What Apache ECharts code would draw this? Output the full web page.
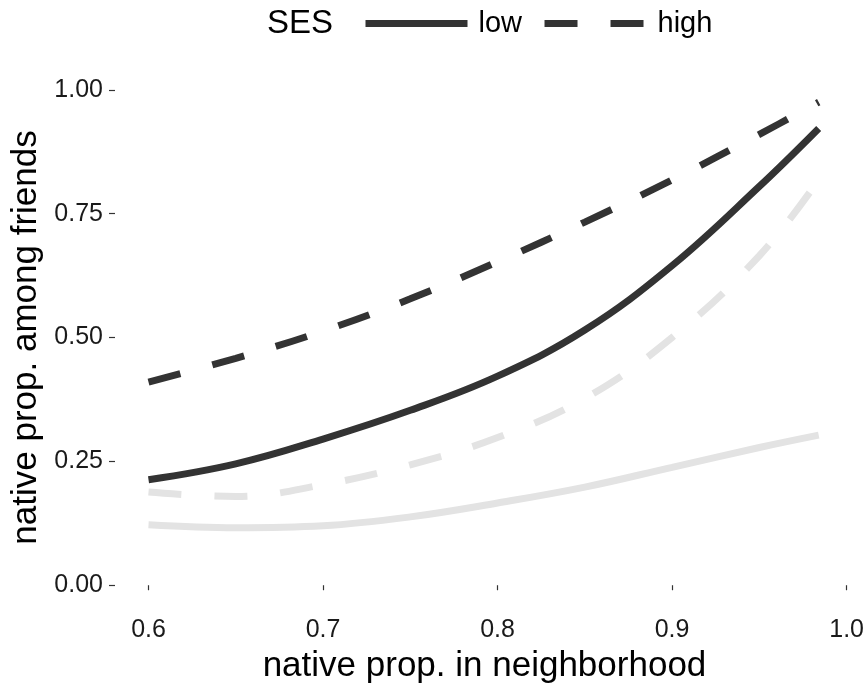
<!DOCTYPE html>
<html>
<head>
<meta charset="utf-8">
<script src="https://cdn.jsdelivr.net/npm/echarts@6/dist/echarts.min.js"></script>
<style>
  html, body { margin: 0; padding: 0; background: #fff; }
  #chart { width: 867px; height: 689px; }
</style>
</head>
<body>
<div id="chart"></div>
<script>
// neighborhood share (x) and predicted share among friends (y)
var xs = [0.6, 0.65, 0.7, 0.75, 0.8, 0.85, 0.9, 0.95, 0.984];
var lowDark   = [0.213, 0.245, 0.295, 0.353, 0.422, 0.515, 0.645, 0.805, 0.922];
var highDark  = [0.41, 0.458, 0.513, 0.578, 0.653, 0.733, 0.818, 0.91, 0.975];
var lowLight  = [0.122, 0.116, 0.12, 0.138, 0.166, 0.198, 0.238, 0.278, 0.303];
var highLight = [0.188, 0.179, 0.203, 0.243, 0.298, 0.377, 0.5, 0.665, 0.818];
var xTicks = [0.6, 0.7, 0.8, 0.9, 1.0];
var yTicks = [0, 0.25, 0.5, 0.75, 1.0];

function pairs(ys) {
    return xs.map(function (x, i) { return [x, ys[i]]; });
}

var FONT = '"Liberation Sans", Arial, sans-serif';
var dark = '#333333';
var light = '#e3e3e3';
var dash = [33, 33];

var myChart = echarts.init(document.getElementById('chart'));
myChart.setOption({
    animation: false,
    textStyle: { fontFamily: FONT },
    title: {
        text: 'SES',
        left: 267,
        top: 7,
        padding: 0,
        textStyle: { fontSize: 33, fontWeight: 'normal', color: '#000', fontFamily: FONT }
    },
    legend: {
        data: ['low', 'high'],
        left: 362,
        top: 9,
        padding: 0,
        itemWidth: 102,
        itemHeight: 14,
        itemGap: 19,
        itemStyle: { opacity: 0 },
        lineStyle: { width: 7, cap: 'butt' },
        textStyle: { fontSize: 29, color: '#000', fontFamily: FONT, padding: [0, 0, 0, 6] }
    },
    grid: { left: 115, right: 13, top: 65, bottom: 76 },
    xAxis: {
        type: 'value',
        min: 0.5808,
        max: 1.0042,
        name: 'native prop. in neighborhood',
        nameLocation: 'middle',
        nameGap: 39,
        nameTextStyle: { fontSize: 35, color: '#000', fontFamily: FONT },
        axisLine: { show: false },
        splitLine: { show: false },
        axisTick: { show: true, length: 5, lineStyle: { color: dark, width: 1.2 }, customValues: xTicks },
        axisLabel: {
            fontSize: 25, color: '#1a1a1a', margin: 8,
            customValues: xTicks,
            formatter: function (v) { return v.toFixed(1); }
        }
    },
    yAxis: {
        type: 'value',
        min: -0.05,
        max: 1.05,
        name: 'native prop. among friends',
        nameLocation: 'middle',
        nameGap: 52,
        nameTextStyle: { fontSize: 35, color: '#000', fontFamily: FONT },
        axisLine: { show: false },
        splitLine: { show: false },
        axisTick: { show: true, length: 6, lineStyle: { color: dark, width: 1.2 }, customValues: yTicks },
        axisLabel: {
            fontSize: 25, color: '#1a1a1a', margin: 12,
            customValues: yTicks,
            formatter: function (v) { return v.toFixed(2); }
        }
    },
    series: [
        {
            name: 'low_ref', type: 'line', data: pairs(lowLight), smooth: 0.4,
            symbol: 'none', lineStyle: { color: light, width: 7, cap: 'butt' }
        },
        {
            name: 'high_ref', type: 'line', data: pairs(highLight), smooth: 0.4,
            symbol: 'none', lineStyle: { color: light, width: 7, type: dash, cap: 'butt' }
        },
        {
            name: 'low', type: 'line', data: pairs(lowDark), smooth: 0.4,
            symbol: 'none', itemStyle: { color: dark },
            lineStyle: { color: dark, width: 7, cap: 'butt' }
        },
        {
            name: 'high', type: 'line', data: pairs(highDark), smooth: 0.4,
            symbol: 'none', itemStyle: { color: dark },
            lineStyle: { color: dark, width: 7, type: dash, cap: 'butt' }
        }
    ]
});
</script>
</body>
</html>
